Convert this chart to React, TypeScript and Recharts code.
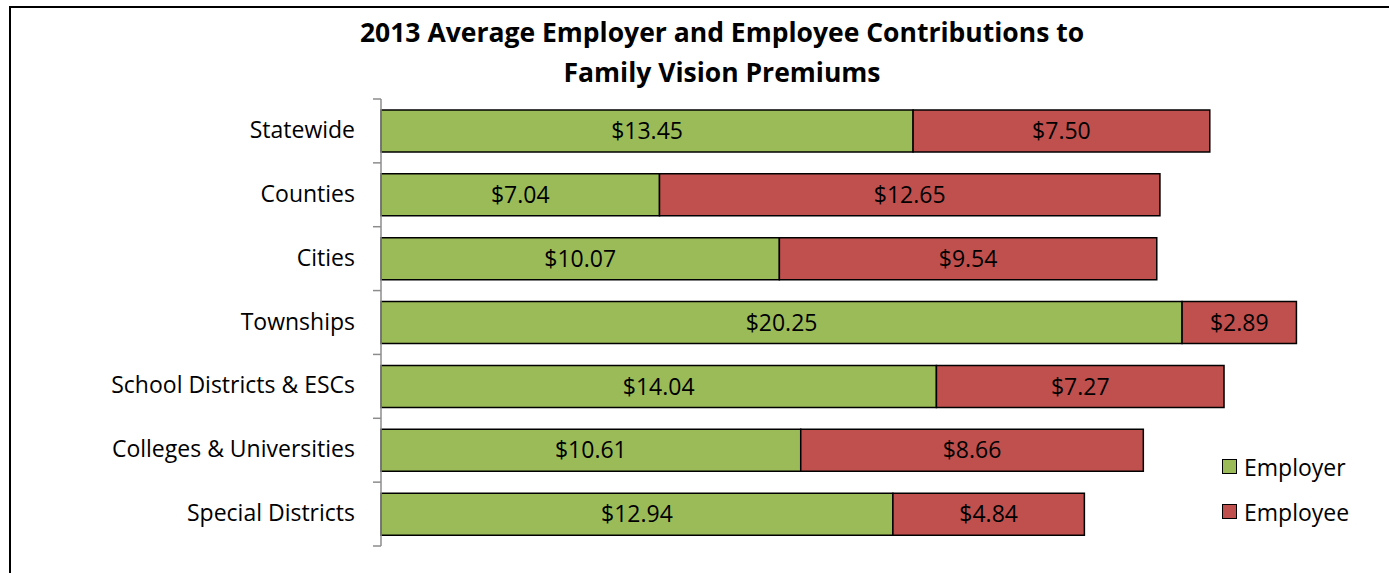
import { Bar, BarChart, LabelList, XAxis, YAxis } from "recharts";

const categories = [
  "Statewide",
  "Counties",
  "Cities",
  "Townships",
  "School Districts & ESCs",
  "Colleges & Universities",
  "Special Districts",
];
const employer = [13.45, 7.04, 10.07, 20.25, 14.04, 10.61, 12.94];
const employee = [7.5, 12.65, 9.54, 2.89, 7.27, 8.66, 4.84];
const seriesNames = ["Employer", "Employee"];

const data = categories.map((name, i) => ({
  name,
  Employer: employer[i],
  Employee: employee[i],
}));

const FONT = "'Open Sans', sans-serif";
const GREEN = "#9bbb59";
const RED = "#c0504d";
const TOP = 99;
const BOTTOM = 27;
const H = 573;
const BAND = (H - TOP - BOTTOM) / categories.length;
const FS = 23;

const money = (v: any) => `$${Number(v).toFixed(2)}`;

function CategoryTick(props: any) {
  const { x, y, payload, index } = props;
  const last = index === categories.length - 1;
  return (
    <g>
      <line x1={x} x2={x + 8} y1={y - BAND / 2} y2={y - BAND / 2} stroke="#8c8c8c" strokeWidth={1.5} />
      {last && (
        <line x1={x} x2={x + 8} y1={y + BAND / 2} y2={y + BAND / 2} stroke="#8c8c8c" strokeWidth={1.5} />
      )}
      <text x={x - 18} y={y} dy={7} textAnchor="end" fill="#000" fontSize={FS} fontFamily={FONT}>
        {payload.value}
      </text>
    </g>
  );
}

export default function App() {
  const colors = [GREEN, RED];
  return (
    <div style={{ position: "absolute", left: 0, top: 0, width: 1389, height: H, background: "#fff" }}>
      <div
        style={{
          position: "absolute",
          left: 9,
          top: 6,
          width: 1400,
          height: 600,
          border: "2px solid #000",
          boxSizing: "border-box",
        }}
      />
      <div
        style={{
          position: "absolute",
          left: 0,
          top: 12,
          width: 1444,
          textAlign: "center",
          fontFamily: FONT,
          fontWeight: 700,
          fontSize: 26.5,
          lineHeight: "40px",
          color: "#000",
        }}
      >
        2013 Average Employer and Employee Contributions to
        <br />
        Family Vision Premiums
      </div>
      <div style={{ position: "absolute", left: 0, top: 0 }}>
        <BarChart
          width={1389}
          height={H}
          data={data}
          layout="vertical"
          margin={{ top: TOP, right: 19, bottom: BOTTOM, left: 0 }}
          barSize={42}
        >
          <XAxis type="number" domain={[0, 25]} hide />
          <YAxis
            type="category"
            dataKey="name"
            width={381}
            axisLine={{ stroke: "#8c8c8c", strokeWidth: 1.5 }}
            tickLine={false}
            tick={<CategoryTick />}
            interval={0}
          />
          <Bar dataKey="Employer" stackId="a" fill={GREEN} stroke="#000" strokeWidth={1.5} isAnimationActive={false}>
            <LabelList dataKey="Employer" position="center" formatter={money} fill="#000" fontSize={FS} fontFamily={FONT} />
          </Bar>
          <Bar dataKey="Employee" stackId="a" fill={RED} stroke="#000" strokeWidth={1.5} isAnimationActive={false}>
            <LabelList dataKey="Employee" position="center" formatter={money} fill="#000" fontSize={FS} fontFamily={FONT} />
          </Bar>
        </BarChart>
      </div>
      <div style={{ position: "absolute", left: 1222, top: 444, fontFamily: FONT, fontSize: FS, color: "#000" }}>
        {seriesNames.map((label, i) => (
          <div key={label} style={{ display: "flex", alignItems: "center", height: 45 }}>
            <span
              style={{
                width: 13,
                height: 13,
                background: colors[i],
                border: "1.5px solid #000",
                marginRight: 7,
              }}
            />
            <span>{label}</span>
          </div>
        ))}
      </div>
    </div>
  );
}
